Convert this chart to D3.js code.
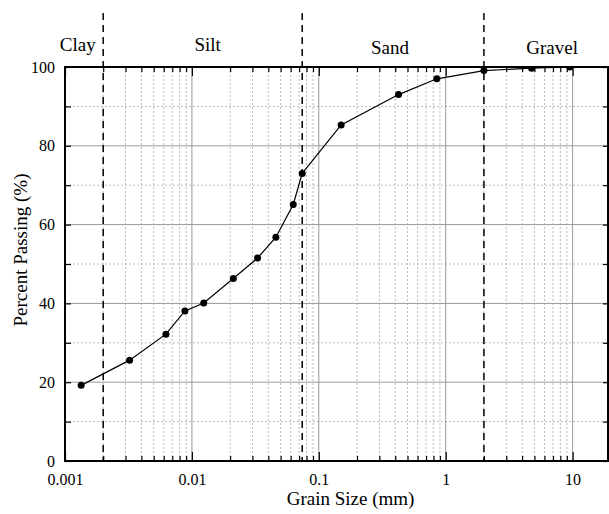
<!DOCTYPE html>
<html>
<head>
<meta charset="utf-8">
<script src="https://cdn.jsdelivr.net/npm/d3@7"></script>
<style>
  body { margin: 0; background: #fff; }
  svg text { font-family: "Liberation Serif", "Times New Roman", serif; fill: #000; }
</style>
</head>
<body>
<div id="chart"></div>
<script>
// sieve / hydrometer results
var grainSize = [0.00134, 0.00323, 0.00624, 0.00881, 0.0124, 0.0212, 0.0329, 0.0459, 0.0629, 0.074, 0.15, 0.425, 0.85, 2.0, 4.75, 9.5];
var percentPassing = [19.2, 25.6, 32.2, 38.1, 40.1, 46.3, 51.5, 56.8, 65.1, 73.0, 85.3, 93.0, 97.0, 99.1, 99.7, 100];

// soil classes and their boundaries (mm)
var zoneNames = ["Clay", "Silt", "Sand", "Gravel"];
var zoneLabelAt = [0.00126, 0.0133, 0.364, 6.9];
var zoneBounds = [0.002, 0.074, 2];

var xTickValues = [0.001, 0.01, 0.1, 1, 10];
var yTickValues = [0, 20, 40, 60, 80, 100];

var FONT = "'Liberation Serif', 'Times New Roman', serif";

// define the space that holds the graph
var W = 609, H = 514;
var margin = {top: 67, right: 1, bottom: 53, left: 65},
    width = W - margin.left - margin.right,
    height = H - margin.top - margin.bottom;

var x = d3.scaleLog().domain([0.001, 19]).range([0, width]);
var y = d3.scaleLinear().domain([0, 100]).range([height, 0]);

var minorX = [];
[0.001, 0.01, 0.1, 1, 10].forEach(function(d) {
  for (var k = 2; k <= 9; k++) if (d * k <= 19) minorX.push(d * k);
});

var svg = d3.select("#chart").append("svg")
    .attr("width", W)
    .attr("height", H);

var g = svg.append("g")
    .attr("transform", "translate(" + margin.left + "," + margin.top + ")");

// grid: minor dotted, major solid
g.append("g").selectAll("line").data(minorX).enter().append("line")
    .attr("x1", function(d) { return x(d); }).attr("x2", function(d) { return x(d); })
    .attr("y1", 0).attr("y2", height)
    .attr("stroke", "#bbb").attr("stroke-dasharray", "2,2");
g.append("g").selectAll("line").data([10, 30, 50, 70, 90]).enter().append("line")
    .attr("x1", 0).attr("x2", width)
    .attr("y1", function(d) { return y(d); }).attr("y2", function(d) { return y(d); })
    .attr("stroke", "#bbb").attr("stroke-dasharray", "2,2");
g.append("g").selectAll("line").data(xTickValues.slice(1)).enter().append("line")
    .attr("x1", function(d) { return x(d); }).attr("x2", function(d) { return x(d); })
    .attr("y1", 0).attr("y2", height)
    .attr("stroke", "#999");
g.append("g").selectAll("line").data(yTickValues.slice(1, 5)).enter().append("line")
    .attr("x1", 0).attr("x2", width)
    .attr("y1", function(d) { return y(d); }).attr("y2", function(d) { return y(d); })
    .attr("stroke", "#999");

// boundary lines between soil classes
svg.append("g").selectAll("line").data(zoneBounds).enter().append("line")
    .attr("x1", function(d) { return margin.left + x(d); })
    .attr("x2", function(d) { return margin.left + x(d); })
    .attr("y1", 13).attr("y2", margin.top + height)
    .attr("stroke", "#000").attr("stroke-width", 1.5)
    .attr("stroke-dasharray", "7,5");

svg.append("g").selectAll("text").data(zoneNames).enter().append("text")
    .attr("x", function(d, i) { return margin.left + x(zoneLabelAt[i]); })
    .attr("y", function(d, i) { return i < 2 ? 51 : 54; })
    .attr("text-anchor", "middle")
    .style("font-family", FONT)
    .style("font-size", "19px")
    .text(function(d) { return d; });

// curve, clipped to the plot
svg.append("clipPath").attr("id", "plot-clip")
  .append("rect").attr("width", width).attr("height", height);

var pts = grainSize.map(function(d, i) { return {size: d, pass: percentPassing[i]}; });
var valueline = d3.line()
    .x(function(d) { return x(d.size); })
    .y(function(d) { return y(d.pass); });

var plot = g.append("g").attr("clip-path", "url(#plot-clip)");
plot.append("path")
    .datum(pts)
    .attr("d", valueline)
    .attr("fill", "none")
    .attr("stroke", "#000")
    .attr("stroke-width", 1.2);
plot.selectAll("circle").data(pts).enter().append("circle")
    .attr("cx", function(d) { return x(d.size); })
    .attr("cy", function(d) { return y(d.pass); })
    .attr("r", 3.5)
    .attr("fill", "#000");

// axes with inward ticks
function styleAxis(sel) {
  sel.attr("font-family", null).attr("font-size", null);
  sel.select(".domain").remove();
  sel.selectAll(".tick line").attr("stroke", "#000").attr("stroke-width", 1.2);
  sel.selectAll("text").style("font-family", FONT).style("font-size", "16px");
}

g.append("g").attr("transform", "translate(0," + height + ")")
    .call(d3.axisBottom(x).tickValues(xTickValues).tickSize(-9).tickPadding(13)
      .tickFormat(function(d) { return String(d); }))
    .call(styleAxis);
g.append("g").attr("transform", "translate(0," + height + ")")
    .call(d3.axisBottom(x).tickValues(minorX).tickSize(-5).tickFormat(""))
    .call(styleAxis);
g.append("g")
    .call(d3.axisTop(x).tickValues(xTickValues).tickSize(-9).tickFormat(""))
    .call(styleAxis);
g.append("g")
    .call(d3.axisTop(x).tickValues(minorX).tickSize(-5).tickFormat(""))
    .call(styleAxis);

g.append("g")
    .call(d3.axisLeft(y).tickValues(d3.range(0, 101, 10)).tickSize(-6).tickPadding(10)
      .tickFormat(function(d) { return d % 20 === 0 ? d : ""; }))
    .call(styleAxis);
g.append("g").attr("transform", "translate(" + width + ",0)")
    .call(d3.axisRight(y).tickValues(d3.range(0, 101, 10)).tickSize(-5).tickFormat(""))
    .call(styleAxis);

// frame
g.append("rect")
    .attr("width", width).attr("height", height)
    .attr("fill", "none").attr("stroke", "#000").attr("stroke-width", 2);

// axis titles
svg.append("text")
    .attr("x", margin.left + width / 2 + 14).attr("y", 505)
    .attr("text-anchor", "middle")
    .style("font-family", FONT)
    .style("font-size", "19px")
    .text("Grain Size (mm)");

svg.append("text")
    .attr("transform", "translate(27,250) rotate(-90)")
    .attr("text-anchor", "middle")
    .style("font-family", FONT)
    .style("font-size", "19px")
    .text("Percent Passing (%)");
</script>
</body>
</html>
